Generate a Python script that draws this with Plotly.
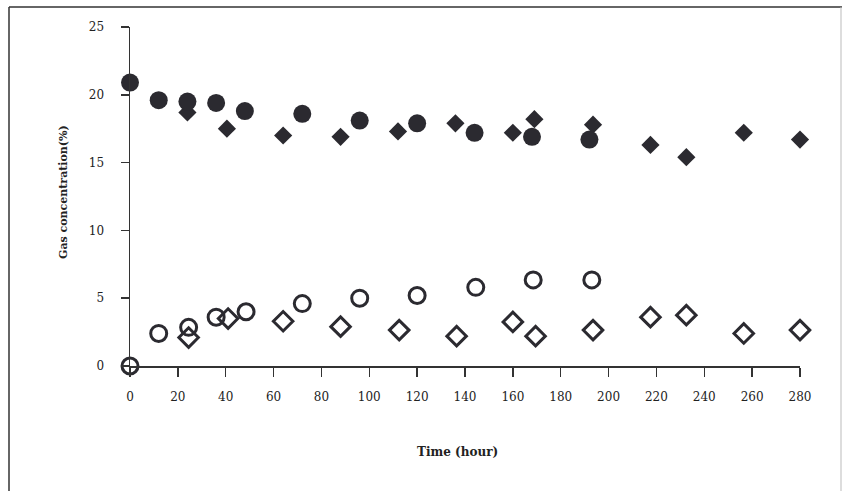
import plotly.graph_objects as go

# Filled circles
fc_t = [0, 12, 24, 36, 48, 72, 96, 120, 144, 168, 192]
fc_v = [20.9, 19.6, 19.5, 19.4, 18.8, 18.6, 18.1, 17.9, 17.2, 16.9, 16.7]
# Filled diamonds
fd_t = [24, 40.5, 64, 88, 112, 136, 160, 169, 193.5, 217.5, 232.5, 256.5, 280]
fd_v = [18.7, 17.5, 17.0, 16.9, 17.3, 17.9, 17.2, 18.2, 17.8, 16.3, 15.4, 17.2, 16.7]
# Open circles
oc_t = [0, 12, 24.5, 36, 48.5, 72, 96, 120, 144.5, 168.5, 193]
oc_v = [0.0, 2.4, 2.85, 3.6, 4.0, 4.6, 5.0, 5.2, 5.8, 6.35, 6.35]
# Open diamonds
od_t = [24.5, 41, 64, 88, 112.5, 136.5, 160, 169.5, 193.5, 217.5, 232.5, 256.5, 280]
od_v = [2.1, 3.5, 3.3, 2.9, 2.65, 2.2, 3.25, 2.2, 2.65, 3.6, 3.75, 2.4, 2.65]

x_ticks = list(range(0, 281, 20))
y_ticks = [0, 5, 10, 15, 20, 25]

ink = "#2b2a30"
font_family = "DejaVu Serif"

fig = go.Figure()
fig.add_trace(go.Scatter(x=fd_t, y=fd_v, mode="markers", cliponaxis=False,
                         marker=dict(symbol="diamond", size=14, color=ink, line=dict(width=0))))
fig.add_trace(go.Scatter(x=od_t, y=od_v, mode="markers", cliponaxis=False,
                         marker=dict(symbol="diamond-open", size=15, color=ink, line=dict(width=3, color=ink))))
fig.add_trace(go.Scatter(x=fc_t, y=fc_v, mode="markers", cliponaxis=False,
                         marker=dict(symbol="circle", size=18, color=ink, line=dict(width=0))))
fig.add_trace(go.Scatter(x=oc_t, y=oc_v, mode="markers", cliponaxis=False,
                         marker=dict(symbol="circle-open", size=16, color=ink, line=dict(width=3, color=ink))))

L, R, T, B = 130, 43, 27, 125
W, H = 843, 491
pw, ph = W - L - R, H - T - B

def px(xpix):
    return (xpix - L) / pw

def py(ypix):
    return (H - B - ypix) / ph

fig.update_layout(
    width=W, height=H,
    margin=dict(l=L, r=R, t=T, b=B),
    paper_bgcolor="white", plot_bgcolor="white",
    showlegend=False,
    hovermode=False,
    font=dict(family=font_family, size=12, color="#222"),
    xaxis=dict(range=[0, 280], tickvals=x_ticks, ticktext=[str(v) for v in x_ticks],
               showgrid=False, zeroline=False, showline=True, linecolor="#333", linewidth=1.5,
               ticks="outside", ticklen=9, tickwidth=1.5, tickcolor="#333",
               ticklabelstandoff=10, tickfont=dict(size=12, color="#222")),
    yaxis=dict(range=[0, 25], tickvals=y_ticks, ticktext=[str(v) for v in y_ticks],
               showgrid=False, zeroline=False, showline=True, linecolor="#333", linewidth=1.5,
               ticks="outside", ticklen=8, tickwidth=1.5, tickcolor="#333",
               ticklabelstandoff=14, tickfont=dict(size=12, color="#222")),
    annotations=[
        dict(text="<b>Time (hour)</b>", x=px(457), y=py(452), xref="paper", yref="paper",
             showarrow=False, font=dict(size=12, family=font_family, color="#222"),
             xanchor="center", yanchor="middle"),
        dict(text="<b>Gas concentration(%)</b>", x=px(63), y=py(192), xref="paper", yref="paper",
             showarrow=False, textangle=-90, font=dict(size=11, family=font_family, color="#222"),
             xanchor="center", yanchor="middle"),
    ],
    shapes=[
        dict(type="line", xref="paper", yref="paper", x0=px(9), x1=px(9), y0=py(491), y1=py(7),
             line=dict(color="#333", width=1.5)),
        dict(type="line", xref="paper", yref="paper", x0=px(9), x1=px(842), y0=py(7), y1=py(7),
             line=dict(color="#333", width=1.5)),
        dict(type="line", xref="paper", yref="paper", x0=px(841), x1=px(841), y0=py(491), y1=py(7),
             line=dict(color="#bbb", width=1)),
    ],
)

fig.write_html("out.html", config={"displayModeBar": False, "staticPlot": True},
               post_script="document.body.style.margin='0';document.body.style.padding='0';document.body.style.overflow='hidden';")
